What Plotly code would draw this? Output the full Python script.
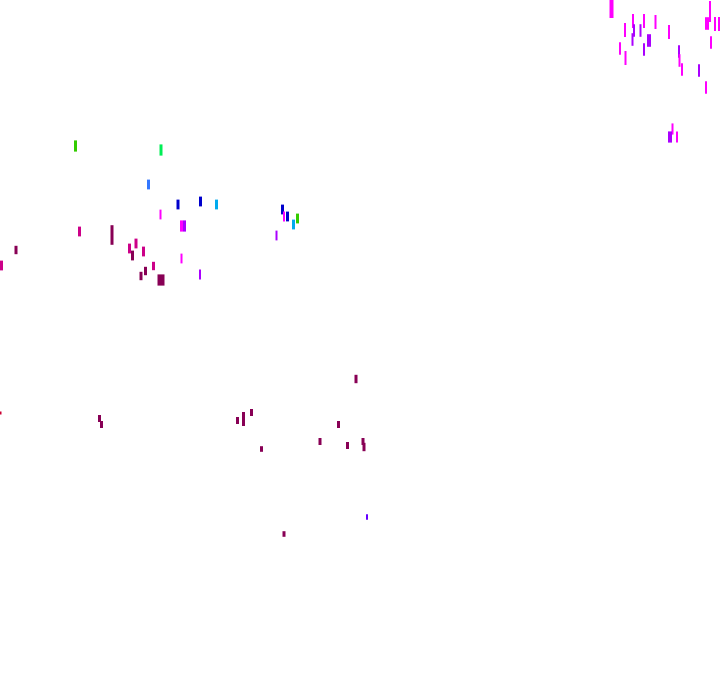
import plotly.graph_objects as go

# Data values (x, y on a 0-720 / 0-692 scale), mark length and group
x_vals = [611.5, 633, 644, 655.5, 625, 634, 640.5, 632.5, 649, 669, 620, 644, 625.5, 679, 679.5,
          682, 699, 710, 707, 715, 719, 711, 706, 672.5, 670, 677,
          75.5, 161, 148.5, 178, 160.5, 200.5, 216.5, 181.5, 184.5, 282.5, 284, 287.5, 297.5, 293.5,
          276.5, 181.5, 200,
          1.5, 16, 79.5, 112, 129.5, 132.5, 136, 143.5, 141, 145.5, 153.5, 161,
          0.5, 99.5, 101.5, 356, 237.5, 243.5, 251.5, 261.5, 338.5, 320, 347.5, 363, 364, 367, 284]
y_vals = [7.5, 21, 21, 22, 30, 30.5, 30.5, 39.5, 40.5, 32, 48.5, 49.5, 58, 51.5, 60.5,
          69.5, 70.5, 11.5, 23.5, 24, 24, 42.5, 87.5, 129, 137, 137,
          146, 150, 184.5, 204.5, 214.5, 201.5, 204.5, 226, 226, 209.5, 216.5, 216.5, 218.5, 224.5,
          235.5, 258.5, 274.5,
          265.5, 250, 231.5, 235, 248.5, 255.5, 243.5, 251.5, 276, 271, 266, 280,
          413, 418.5, 424.5, 379, 420.5, 419, 412.5, 449, 424.5, 441.5, 445.5, 441.5, 447, 517, 534]
lengths = [15, 10, 10, 10, 10, 9, 9, 9, 9, 10, 9, 9, 10, 9, 9,
           9, 9, 15, 9, 10, 10, 9, 9, 8, 8, 8,
           8, 8, 7, 7, 7, 7, 7, 8, 8, 7, 7, 7, 7, 7,
           7, 7, 7,
           7, 6, 7, 14, 7, 7, 7, 7, 6, 6, 6, 8,
           2, 5, 5, 6, 5, 10, 5, 4, 5, 5, 5, 5, 6, 4, 4]
groups = ["magenta", "magenta", "magenta", "magenta", "magenta", "purple", "purple", "purple", "purple",
          "magenta", "magenta", "purple", "magenta", "purple", "magenta",
          "magenta", "purple", "magenta", "magenta", "magenta", "magenta", "magenta", "magenta",
          "magenta", "purple", "magenta",
          "green", "spring", "blue", "navy", "magenta", "navy", "sky", "magenta", "purple", "navy",
          "magenta", "navy", "green", "sky",
          "purple", "magenta", "purple",
          "pink", "wine", "pink", "wine", "pink", "wine", "pink", "pink", "wine", "wine", "pink", "wine",
          "red", "wine", "wine", "wine", "wine", "wine", "wine", "wine", "wine", "wine", "wine", "wine",
          "wine", "violet", "wine"]

# Styles
palette = {"magenta": "#ff00ff", "purple": "#aa00ff", "green": "#33cc00", "spring": "#00ee55",
           "blue": "#3377ff", "navy": "#0000cc", "sky": "#00aaee", "pink": "#cc0088",
           "wine": "#880055", "red": "#cc0033", "violet": "#6600ff"}
widths = {"magenta": 2, "purple": 2, "green": 3, "spring": 3, "blue": 3, "navy": 3, "sky": 3,
          "pink": 3, "wine": 3, "red": 2, "violet": 2}

colors = [palette[g] for g in groups]
lw = [widths[g] for g in groups]
# a few wider marks
for i in (0, 18, 24, 8):
    lw[i] = 4
for i in (33, 34):
    lw[i] = 3
lw[54] = 7

fig = go.Figure(go.Scatter(
    x=x_vals, y=y_vals, mode="markers",
    marker=dict(symbol="line-ns", size=lengths, color=colors, opacity=1,
                line=dict(color=colors, width=lw)),
    hoverinfo="skip", showlegend=False, cliponaxis=False))

fig.update_layout(
    width=720, height=692, margin=dict(l=0, r=0, t=0, b=0),
    paper_bgcolor="white", plot_bgcolor="white",
    xaxis=dict(range=[0, 720], visible=False),
    yaxis=dict(range=[692, 0], visible=False),
)
fig.write_html("out.html", config={"displayModeBar": False},
               post_script="document.body.style.margin='0';")
